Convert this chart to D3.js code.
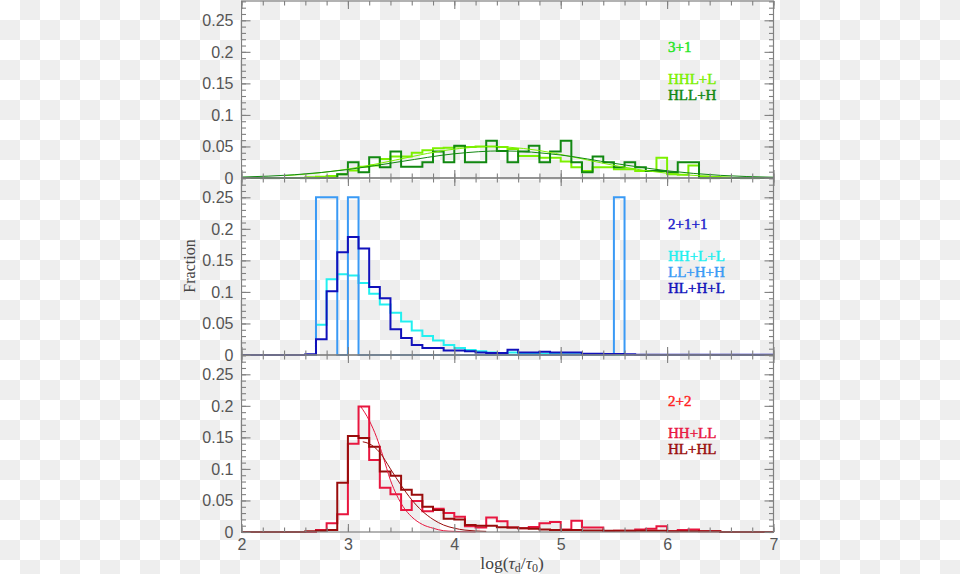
<!DOCTYPE html>
<html>
<head>
<meta charset="utf-8">
<title>Fraction vs log(td/t0) - D3 step histograms</title>
<script src="https://d3js.org/d3.v7.min.js"></script>
<style>
  body { margin: 0; }
  svg { display: block; font-family: 'Liberation Serif', serif; }
  .tick text { font-size: 16px; fill: #555; }
  .tick line { stroke: #808080; stroke-width: 1.1; }
  .legend { font-size: 15px; stroke-width: 0.45px; }
  .axis-label { font-size: 16px; fill: #444; }
</style>
</head>
<body>
<div id="chart"></div>
<script>
// histogram bins: 0.1 wide, from 2.0 to 7.0 (50 bins)
var binStart = 2, binWidth = 0.1, binCount = 50;
var xTicks = [2, 3, 4, 5, 6, 7];
var yTicks = [0, 0.05, 0.1, 0.15, 0.2, 0.25];
var yTickLabels = ["0", "0.05", "0.1", "0.15", "0.2", "0.25"];

// panel 1: 3+1
var hhl_l = [0,0,0,0,0,0,0.001,0.002,0.003,0.006,
             0.012,0.018,0.020,0.030,0.034,0.034,0.040,0.044,0.047,0.048,
             0.050,0.049,0.050,0.050,0.049,0.046,0.035,0.035,0.032,0.032,
             0.026,0.017,0.011,0.017,0.017,0.014,0.014,0.011,0.011,0.032,
             0.006,0.005,0.020,0.002,0.001,0,0,0,0,0];
var hll_h = [0,0,0,0,0,0,0,0,0,0.006,
             0.025,0.009,0.033,0.017,0.042,0.018,0.018,0.025,0.042,0.025,
             0.051,0.025,0.025,0.059,0.043,0.025,0.042,0.051,0.025,0.042,
             0.059,0.025,0.009,0.034,0.025,0.017,0.025,0.017,0.011,0.011,
             0.009,0.025,0.025,0,0,0,0,0,0,0];
var hhl_l_fitX = [2.4, 2.7, 3.0, 3.3, 3.6, 3.9, 4.2, 4.35, 4.5, 4.8, 5.1, 5.4, 5.7, 6.0, 6.3, 6.6];
var hhl_l_fitY = [0.0036, 0.0076, 0.0142, 0.0233, 0.0339, 0.0435, 0.049, 0.050, 0.049, 0.0435, 0.0339, 0.0233, 0.0142, 0.0076, 0.0036, 0.0015];
var hll_h_fitX = [2.0, 2.5, 3.0, 3.5, 4.0, 4.45, 5.0, 5.5, 6.0, 6.5, 7.0];
var hll_h_fitY = [0.0015, 0.0052, 0.0134, 0.0261, 0.0384, 0.043, 0.0364, 0.0233, 0.0114, 0.0042, 0.0012];

// panel 2: 2+1+1
var hh_l_l = [0,0,0,0,0,0,0,0.048,0.120,0.128,
              0.126,0.114,0.097,0.080,0.067,0.053,0.039,0.030,0.023,0.016,
              0.011,0.008,0.006,0.004,0.003,0.004,0.003,0.002,0.002,0.002,
              0.001,0.001,0,0,0,0,0,0,0,0,
              0,0,0,0,0,0,0,0,0,0];
var ll_h_h = [0,0,0,0,0,0,0,0.25,0.25,0,
              0.25,0,0,0,0,0,0,0,0,0,
              0,0,0,0,0,0,0,0,0,0,
              0,0,0,0,0,0.25,0,0,0,0,
              0,0,0,0,0,0,0,0,0,0];
var hl_h_l = [0,0,0,0,0,0,0.001,0.025,0.101,0.163,
              0.187,0.169,0.108,0.090,0.041,0.027,0.016,0.011,0.011,0.007,
              0.007,0.006,0.004,0.003,0.003,0.0085,0.004,0.004,0.005,0.004,
              0.004,0.004,0.002,0.002,0.0015,0.0015,0.001,0.0005,0.0005,0.0005,
              0.0005,0.0005,0.0005,0.0005,0.0005,0.0005,0.0005,0.0005,0.0005,0.0005];

// panel 3: 2+2
var hh_ll = [0,0,0,0,0,0,0,0.003,0.014,0.028,
             0.140,0.199,0.114,0.070,0.060,0.035,0.049,0.033,0.037,0.030,
             0.024,0.009,0.007,0.023,0.017,0.007,0.006,0.008,0.014,0.016,
             0.004,0.018,0.007,0.007,0.0016,0.002,0.002,0.004,0.005,0.009,
             0.001,0.003,0.004,0.001,0.001,0,0,0,0,0];
var hl_hl = [0,0,0,0,0,0,0.001,0.002,0.003,0.078,
             0.152,0.149,0.135,0.096,0.089,0.067,0.059,0.040,0.035,0.021,
             0.020,0.011,0.010,0.010,0.0075,0.007,0.006,0.005,0.004,0.003,
             0.003,0.003,0.0025,0.0025,0.002,0.002,0.002,0.002,0.002,0.002,
             0.001,0.001,0.001,0.001,0.001,0,0,0,0,0];
var hh_ll_fitX = [3.12, 3.2, 3.27, 3.33, 3.4, 3.46, 3.52, 3.6, 3.7, 3.8, 3.9, 4.0, 4.2];
var hh_ll_fitY = [0.199, 0.177, 0.150, 0.120, 0.082, 0.058, 0.040, 0.024, 0.012, 0.006, 0.002, 0.001, 0];
var hl_hl_fitX = [3.14, 3.2, 3.3, 3.4, 3.5, 3.6, 3.7, 3.8, 3.9, 4.0, 4.1, 4.3];
var hl_hl_fitY = [0.143, 0.140, 0.126, 0.100, 0.074, 0.051, 0.033, 0.020, 0.011, 0.006, 0.003, 0.001];

var panels = [
  { top: 1, title: "3+1", titleColor: "#22e622",
    series: [
      { name: "HHL+L", values: hhl_l, color: "#7cf000", fitX: hhl_l_fitX, fitY: hhl_l_fitY },
      { name: "HLL+H", values: hll_h, color: "#118811", fitX: hll_h_fitX, fitY: hll_h_fitY }
    ] },
  { top: 178, title: "2+1+1", titleColor: "#2222cc",
    series: [
      { name: "HH+L+L", values: hh_l_l, color: "#22f0f0" },
      { name: "LL+H+H", values: ll_h_h, color: "#3a9af5" },
      { name: "HL+H+L", values: hl_h_l, color: "#1111bb" }
    ] },
  { top: 355, title: "2+2", titleColor: "#ff2222",
    series: [
      { name: "HH+LL", values: hh_ll, color: "#e8163f", fitX: hh_ll_fitX, fitY: hh_ll_fitY },
      { name: "HL+HL", values: hl_hl, color: "#990c0c", fitX: hl_hl_fitX, fitY: hl_hl_fitY }
    ] }
];

var W = 960, H = 574;
var left = 241.5, right = 773.5, panelH = 177;

var svg = d3.select("#chart").append("svg")
  .attr("width", W).attr("height", H);

// transparent-background checkerboard
var pat = svg.append("defs").append("pattern")
  .attr("id", "checker").attr("width", 40).attr("height", 40)
  .attr("patternUnits", "userSpaceOnUse");
pat.append("rect").attr("width", 40).attr("height", 40).attr("fill", "#fff");
pat.append("rect").attr("x", 20).attr("y", 0).attr("width", 20).attr("height", 20).attr("fill", "#eeeeee");
pat.append("rect").attr("x", 0).attr("y", 20).attr("width", 20).attr("height", 20).attr("fill", "#eeeeee");
svg.append("rect").attr("width", W).attr("height", H).attr("fill", "url(#checker)");

var x = d3.scaleLinear().domain([2, 7]).range([left, right]);
var xMinor = d3.range(2, 7.001, 0.2).map(d => +d.toFixed(1));
var yMinor = d3.range(0, 0.2801, 0.01).map(d => +d.toFixed(2));

panels.forEach(function(p, pi) {
  var g = svg.append("g").attr("transform", "translate(0," + p.top + ")");
  var y = d3.scaleLinear().domain([0, 0.2806]).range([panelH, 0]);

  // histograms
  var step = d3.line().curve(d3.curveStepAfter)
    .x(d => x(d[0])).y(d => y(d[1]));
  var fit = d3.line().curve(d3.curveMonotoneX)
    .x(d => x(d[0])).y(d => y(d[1]));

  p.series.forEach(function(s) {
    var pts = s.values.map((v, i) => [binStart + i * binWidth, v]);
    pts.push([binStart + binCount * binWidth, s.values[binCount - 1]]);
    g.append("path").attr("d", step(pts))
      .attr("fill", "none").attr("stroke", s.color)
      .attr("stroke-width", 2).attr("stroke-linejoin", "miter");
  });
  p.series.forEach(function(s) {
    if (!s.fitX) return;
    var pts = s.fitX.map((v, i) => [v, s.fitY[i]]);
    g.append("path").attr("d", fit(pts))
      .attr("fill", "none").attr("stroke", s.color).attr("stroke-width", 1);
  });

  // frame
  g.append("rect").attr("x", left).attr("y", 0)
    .attr("width", right - left).attr("height", panelH)
    .attr("fill", "none").attr("stroke", "#808080").attr("stroke-width", 1.2);

  function ax(axis, tx, ty, vals, size, labels) {
    var a = axis.tickValues(vals).tickSize(size).tickSizeOuter(0);
    if (!labels) a.tickFormat("");
    var sel = g.append("g").attr("transform", "translate(" + tx + "," + ty + ")").call(a);
    sel.select(".domain").remove();
    return sel;
  }

  ax(d3.axisLeft(y), left, 0, yMinor, -4.5, false);
  ax(d3.axisRight(y), right, 0, yMinor, -4.5, false);
  ax(d3.axisTop(x), 0, 0, xMinor, -4.5, false);
  ax(d3.axisBottom(x), 0, panelH, xMinor, -4.5, false);
  ax(d3.axisRight(y), right, 0, yTicks, -9, false);
  ax(d3.axisTop(x), 0, 0, xTicks, -8, false);

  var yl = ax(d3.axisLeft(y).tickPadding(8).tickFormat((d, i) => yTickLabels[i]), left, 0, yTicks, -9, true);
  yl.selectAll("text").attr("dy", "0.34em");

  var xb = d3.axisBottom(x).tickPadding(7).tickFormat(d => pi === panels.length - 1 ? d : "");
  ax(xb, 0, panelH, xTicks, -8, true);

  // legend
  g.append("text").attr("class", "legend")
    .attr("x", 668).attr("y", 51)
    .attr("fill", p.titleColor).attr("stroke", p.titleColor).text(p.title);
  p.series.forEach(function(s, i) {
    g.append("text").attr("class", "legend")
      .attr("x", 668).attr("y", 83 + i * 16)
      .attr("fill", s.color).attr("stroke", s.color).text(s.name);
  });
});

// axis titles
svg.append("text").attr("class", "axis-label")
  .attr("transform", "translate(195,266) rotate(-90)")
  .attr("text-anchor", "middle").text("Fraction");

var xl = svg.append("text").attr("class", "axis-label")
  .attr("x", 512).attr("y", 569).attr("text-anchor", "middle")
  .style("font-size", "17.5px");
xl.append("tspan").text("log(");
xl.append("tspan").attr("font-style", "italic").text("τ");
xl.append("tspan").attr("font-size", "12px").attr("dy", 3).text("d");
xl.append("tspan").attr("dy", -3).text("/");
xl.append("tspan").attr("font-style", "italic").text("τ");
xl.append("tspan").attr("font-size", "12px").attr("dy", 3).text("0");
xl.append("tspan").attr("dy", -3).text(")");
</script>
</body>
</html>
